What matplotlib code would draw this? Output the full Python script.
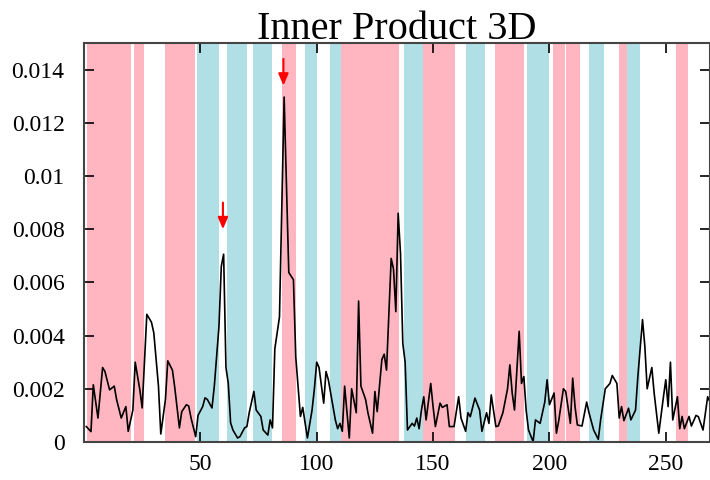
import matplotlib
matplotlib.use("Agg")
import matplotlib.pyplot as plt
from matplotlib.ticker import FuncFormatter

plt.rcParams.update({
    "font.family": "serif",
    "font.serif": ["Liberation Serif", "DejaVu Serif"],
})

# residue index and inner product value (x 1e-3)
residues = [1, 3, 4, 6, 8, 9, 11, 13, 14, 16, 18, 19, 21, 22, 24, 25, 27, 29, 30,
            32, 33, 35, 36, 38, 39, 41, 42, 44, 45, 46, 48, 49, 51, 52, 53, 55, 56,
            58, 59, 60, 61, 62, 63, 64, 66, 67, 69, 70, 71, 73, 74, 76, 77, 79, 80,
            81, 82, 83, 84, 86, 88, 90, 91, 93, 94, 96, 98, 99, 100, 101, 103, 104,
            105, 107, 108, 109, 110, 111, 112, 114, 115, 117, 118, 119, 121, 122,
            124, 125, 126, 128, 129, 130, 132, 133, 134, 135, 136, 137, 138, 139,
            141, 142, 143, 144, 145, 146, 147, 149, 150, 151, 153, 154, 156, 157,
            159, 161, 162, 164, 165, 166, 168, 170, 171, 173, 174, 175, 177, 178,
            180, 182, 183, 184, 185, 187, 188, 189, 190, 191, 193, 194, 196, 198,
            199, 200, 202, 203, 204, 206, 207, 209, 210, 211, 212, 214, 216, 217,
            219, 221, 222, 224, 226, 227, 229, 230, 231, 232, 234, 235, 237, 238,
            240, 241, 242, 244, 245, 247, 249, 250, 251, 252, 253, 255, 256, 257,
            258, 260, 261, 263, 264, 266, 268, 269]
values_e3 = [0.58, 0.39, 2.15, 0.9, 2.8, 2.65, 1.96, 2.1, 1.6, 0.9, 1.33, 0.4, 1.2,
             3.0, 1.96, 1.28, 4.8, 4.5, 4.1, 2.1, 0.3, 1.6, 3.05, 2.7, 2.05, 0.53,
             1.14, 1.4, 1.35, 0.9, 0.2, 1.0, 1.33, 1.66, 1.6, 1.28, 2.1, 4.35, 6.6,
             7.06, 2.8, 2.2, 0.72, 0.45, 0.15, 0.2, 0.53, 0.58, 1.1, 1.9, 1.2, 0.96,
             0.45, 0.26, 0.83, 0.53, 3.5, 4.1, 4.7, 12.97, 6.37, 6.1, 3.2, 0.96, 1.3,
             0.15, 1.2, 2.0, 3.0, 2.8, 1.46, 2.65, 2.34, 1.33, 0.83, 0.5, 0.7, 0.4,
             2.1, 0.15, 2.0, 1.1, 5.3, 2.1, 1.6, 1.1, 0.33, 1.9, 1.14, 3.1, 3.3, 2.7,
             6.9, 6.5, 4.9, 8.6, 7.1, 3.7, 3.0, 0.45, 0.7, 0.6, 0.9, 0.5, 1.2, 1.7,
             0.83, 2.2, 1.33, 0.58, 1.46, 1.3, 1.4, 0.58, 0.58, 1.7, 0.9, 0.4, 1.1,
             0.95, 1.65, 1.2, 0.4, 1.1, 0.7, 1.77, 0.58, 0.6, 1.1, 2.0, 2.9, 1.84,
             1.2, 4.16, 2.2, 2.46, 1.2, 0.45, 0.01, 0.83, 0.7, 1.5, 2.34, 1.4, 1.84,
             0.33, 0.8, 2.0, 1.9, 0.7, 2.4, 1.33, 0.64, 0.6, 1.5, 1.1, 0.45, 0.1,
             0.83, 2.0, 2.2, 2.5, 2.2, 0.9, 1.33, 0.8, 1.27, 0.83, 1.2, 2.46, 4.6,
             3.6, 2.0, 2.8, 1.84, 0.33, 1.7, 2.34, 1.33, 3.0, 0.83, 1.7, 0.5, 0.96,
             0.5, 0.96, 0.6, 1.0, 0.95, 0.45, 1.7, 1.5]

pink_bands = [(1.5, 20), (21.5, 26), (35, 47.5), (85, 91), (110.5, 135.5),
              (145.5, 159.5), (176.5, 189), (201.5, 206.5), (207, 213),
              (230, 233.5), (254.5, 259.5)]
cyan_bands = [(48.5, 58), (61.5, 70), (72.5, 81), (95, 100), (105.5, 110.5),
              (137.5, 145.5), (164, 172.5), (190.5, 200), (217, 223.5),
              (233.5, 239)]

# arrows marking the two peaks: (x, y_top, y_tip)
arrows = [(59.7, 0.0090, 0.0080), (85.7, 0.0144, 0.0134)]

fig = plt.figure(figsize=(7.1, 4.8), dpi=100)
ax = fig.add_axes([0.1183, 0.0792, 0.8817, 0.8312])

for a, b in pink_bands:
    ax.axvspan(a, b, color="#FFB6C1", lw=0, zorder=0)
for a, b in cyan_bands:
    ax.axvspan(a, b, color="#B0E0E6", lw=0, zorder=0)

ax.plot(residues, [v * 1e-3 for v in values_e3], color="black", lw=1.2, zorder=2)

for x, y0, y1 in arrows:
    ax.annotate("", xy=(x, y1), xytext=(x, y0),
                arrowprops=dict(arrowstyle="-|>,head_length=0.7,head_width=0.3",
                                color="red", lw=1.5, shrinkA=0, shrinkB=0,
                                mutation_scale=10), zorder=3)

ax.set_xlim(0, 269)
ax.set_ylim(0, 0.015)
ax.set_xticks([50, 100, 150, 200, 250])
ax.set_yticks([0, 0.002, 0.004, 0.006, 0.008, 0.01, 0.012, 0.014])
ax.yaxis.set_major_formatter(FuncFormatter(lambda v, p: "%g" % v))

ax.tick_params(direction="in", top=True, right=True, length=7, width=1.2,
               labelsize=17)
ax.tick_params(axis="x", pad=9)
ax.tick_params(axis="y", pad=14)
for s in ax.spines.values():
    s.set_color("#444444")
    s.set_linewidth(1.5)

ax.set_title("Inner Product 3D", fontsize=29, pad=3)

fig.savefig("out.png", dpi=100)
